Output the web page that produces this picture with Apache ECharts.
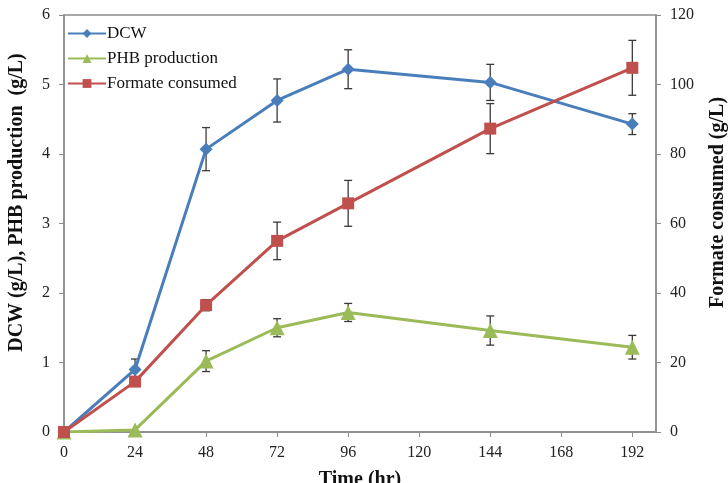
<!DOCTYPE html>
<html>
<head>
<meta charset="utf-8">
<script src="https://cdn.jsdelivr.net/npm/echarts@6/dist/echarts.min.js"></script>
<style>
    html, body { margin: 0; padding: 0; background: #fff; }
    #chart { width: 728px; height: 483px; }
</style>
</head>
<body>
<div id="chart"></div>
<script>
// sampling times (hr)
const times = [0, 24, 48, 72, 96, 144, 192];
const xTicks = [0, 24, 48, 72, 96, 120, 144, 168, 192];

// values
const dcw = [0, 0.9, 4.07, 4.77, 5.22, 5.03, 4.43];
const dcwErr = [0, 0.15, 0.31, 0.31, 0.28, 0.26, 0.15];
const phb = [0, 0.03, 1.02, 1.5, 1.72, 1.46, 1.22];
const phbErr = [0, 0, 0.15, 0.13, 0.13, 0.21, 0.17];
const formate = [0, 14.5, 36.5, 55, 65.8, 87.3, 104.8];
const formateErr = [0, 0, 1.6, 5.4, 6.6, 7.2, 7.9];

const serif = "Liberation Serif";
const axisGray = "#8c8c8c";

const pairs = (vals) => times.map((t, i) => [t, vals[i]]);
const triples = (vals, errs) => times.map((t, i) => [t, vals[i], errs[i]]);

// error bars drawn through the axis scales
const errorBars = (params, api) => {
    const x = api.value(0), y = api.value(1), e = api.value(2);
    if (!e) return null;
    const hi = api.coord([x, y + e]);
    const lo = api.coord([x, y - e]);
    const cap = 4;
    const style = { stroke: "#3a3a3a", lineWidth: 1.3 };
    return {
        type: "group",
        children: [
            { type: "line", shape: { x1: hi[0], y1: hi[1], x2: lo[0], y2: lo[1] }, style },
            { type: "line", shape: { x1: hi[0] - cap, y1: hi[1], x2: hi[0] + cap, y2: hi[1] }, style },
            { type: "line", shape: { x1: lo[0] - cap, y1: lo[1], x2: lo[0] + cap, y2: lo[1] }, style }
        ]
    };
};

const lineSeries = (name, data, color, symbol, size, yIdx) => ({
    name: name,
    type: "line",
    yAxisIndex: yIdx,
    data: data,
    symbol: symbol,
    symbolSize: size,
    lineStyle: { color: color, width: 3 },
    itemStyle: { color: color },
    emphasis: { disabled: true }
});

const errSeries = (data, yIdx) => ({
    type: "custom",
    yAxisIndex: yIdx,
    data: data,
    encode: { x: 0, y: 1 },
    renderItem: errorBars,
    silent: true,
    z: 3
});

const titleStyle = { fontFamily: serif, fontSize: 20, fontWeight: "bold", color: "#111" };
const tickLabel = { fontFamily: serif, fontSize: 16, color: "#222" };

const chart = echarts.init(document.getElementById("chart"));
chart.setOption({
    animation: false,
    textStyle: { fontFamily: serif },
    grid: {
        left: 64, right: 72, top: 15, bottom: 51,
        outerBoundsMode: "none",
        show: true, borderColor: axisGray, borderWidth: 1.5
    },
    legend: {
        orient: "vertical",
        left: 62,
        top: 20,
        itemWidth: 38,
        itemHeight: 11,
        itemGap: 8,
        data: ["DCW", "PHB production", "Formate consumed"],
        textStyle: { fontFamily: serif, fontSize: 17, color: "#111", padding: [0, 0, 0, -4] }
    },
    xAxis: {
        type: "value",
        min: 0,
        max: 200,
        interval: 24,
        name: "Time (hr)",
        nameLocation: "middle",
        nameGap: 38,
        nameTextStyle: titleStyle,
        axisLine: { lineStyle: { color: axisGray, width: 1.5 } },
        axisTick: { show: true, length: 5, lineStyle: { color: axisGray }, customValues: xTicks },
        axisLabel: Object.assign({ margin: 13, customValues: xTicks }, tickLabel),
        splitLine: { show: false }
    },
    yAxis: [
        {
            type: "value",
            min: 0,
            max: 6,
            interval: 1,
            name: "DCW (g/L), PHB production  (g/L)",
            nameLocation: "middle",
            nameGap: 37,
            nameTextStyle: Object.assign({ padding: [0, 0, 0, 42] }, titleStyle),
            axisLine: { show: true, lineStyle: { color: axisGray, width: 1.5 } },
            axisTick: { show: true, length: 5, lineStyle: { color: axisGray } },
            axisLabel: Object.assign({ margin: 14 }, tickLabel),
            splitLine: { show: false }
        },
        {
            type: "value",
            min: 0,
            max: 120,
            interval: 20,
            position: "right",
            name: "Formate consumed (g/L)",
            nameLocation: "middle",
            nameGap: 52,
            nameRotate: 90,
            nameTextStyle: Object.assign({ padding: [0, 0, 0, 42] }, titleStyle),
            axisLine: { show: true, lineStyle: { color: axisGray, width: 1.5 } },
            axisTick: { show: true, length: 5, lineStyle: { color: axisGray } },
            axisLabel: Object.assign({ margin: 14 }, tickLabel),
            splitLine: { show: false }
        }
    ],
    series: [
        lineSeries("DCW", pairs(dcw), "#4a7ebb", "diamond", 13, 0),
        lineSeries("PHB production", pairs(phb), "#9bbb59", "triangle", 15, 0),
        lineSeries("Formate consumed", pairs(formate), "#c0504d", "rect", 12, 1),
        errSeries(triples(dcw, dcwErr), 0),
        errSeries(triples(phb, phbErr), 0),
        errSeries(triples(formate, formateErr), 1)
    ]
});
</script>
</body>
</html>
